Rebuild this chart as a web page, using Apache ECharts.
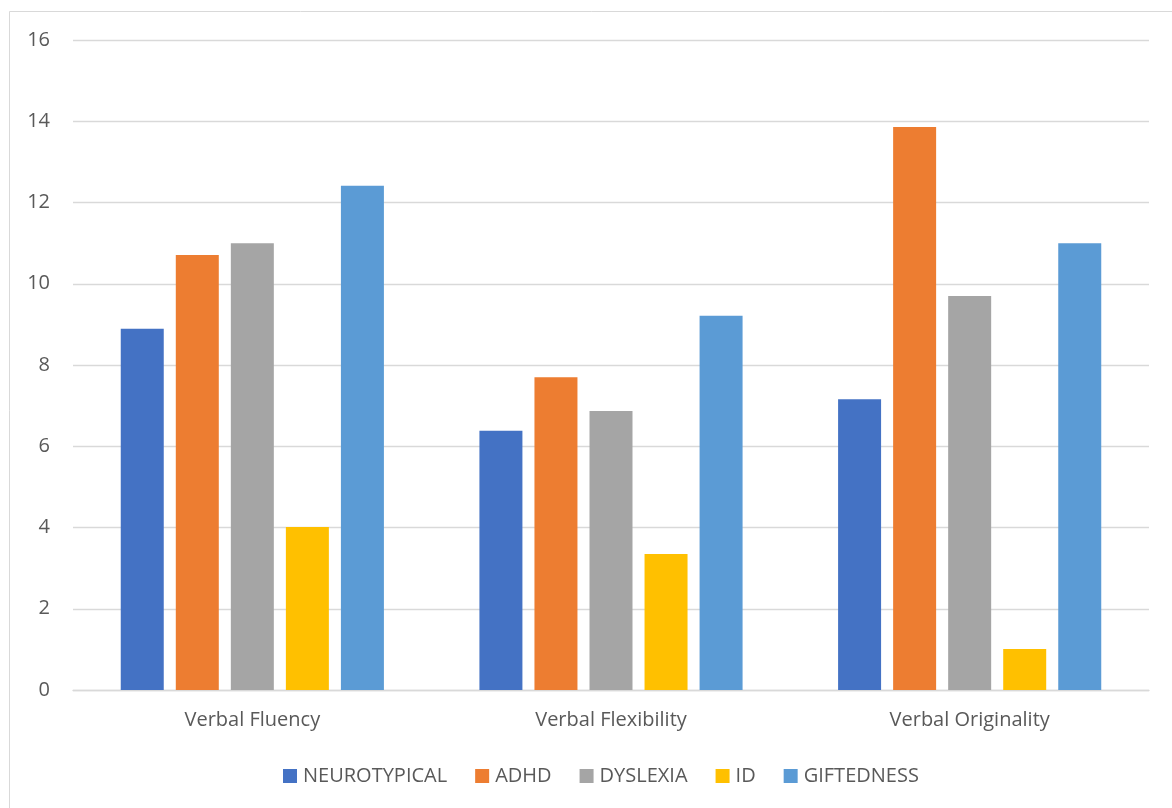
<!DOCTYPE html>
<html>
<head>
<meta charset="utf-8">
<script src="https://cdn.jsdelivr.net/npm/echarts@6/dist/echarts.min.js"></script>
<style>
  html, body { margin: 0; padding: 0; background: #fff; }
  #chart { width: 1172px; height: 808px; }
</style>
</head>
<body>
<div id="chart"></div>
<script>
// Verbal creativity scores by group
const categories = ['Verbal Fluency', 'Verbal Flexibility', 'Verbal Originality'];
const neurotypical = [8.89, 6.38, 7.16];
const adhd = [10.71, 7.70, 13.86];
const dyslexia = [11.0, 6.87, 9.70];
const id = [4.01, 3.35, 1.01];
const giftedness = [12.41, 9.21, 11.0];
const yTicks = { min: 0, max: 16, interval: 2 };

const seriesDefs = [
  { name: 'NEUROTYPICAL', data: neurotypical, color: '#4472C4' },
  { name: 'ADHD', data: adhd, color: '#ED7D31' },
  { name: 'DYSLEXIA', data: dyslexia, color: '#A5A5A5' },
  { name: 'ID', data: id, color: '#FFC000' },
  { name: 'GIFTEDNESS', data: giftedness, color: '#5B9BD5' }
];

const textColor = '#595959';
const fontFamily = '"Open Sans", "Liberation Sans", sans-serif';

const chart = echarts.init(document.getElementById('chart'), null, { renderer: 'canvas' });
chart.setOption({
  backgroundColor: '#fff',
  animation: false,
  graphic: [{
    // chart area frame (left and top edges fall inside the canvas)
    type: 'rect',
    shape: { x: 9.5, y: 11.5, width: 1300, height: 900 },
    style: { fill: 'none', stroke: '#D9D9D9', lineWidth: 1 },
    silent: true
  }],
  grid: { left: 73, right: 23, top: 40, bottom: 118, containLabel: false },
  legend: {
    bottom: 17,
    left: 278,
    itemWidth: 14,
    itemHeight: 14,
    itemGap: 28,
    icon: 'rect',
    textStyle: { color: textColor, fontSize: 20, fontFamily: fontFamily, padding: [0, 0, 0, 1] },
    data: seriesDefs.map(s => s.name)
  },
  xAxis: {
    type: 'category',
    data: categories,
    axisLine: { show: true, lineStyle: { color: '#D9D9D9', width: 1.3 } },
    axisTick: { show: false },
    axisLabel: { color: textColor, fontSize: 20, fontFamily: fontFamily, margin: 20 }
  },
  yAxis: {
    type: 'value',
    min: yTicks.min,
    max: yTicks.max,
    interval: yTicks.interval,
    axisLine: { show: false },
    axisTick: { show: false },
    splitLine: { lineStyle: { color: '#D9D9D9', width: 1.3 } },
    axisLabel: { color: textColor, fontSize: 20, fontFamily: fontFamily, margin: 23 }
  },
  series: seriesDefs.map(s => ({
    name: s.name,
    type: 'bar',
    data: s.data,
    barWidth: 43,
    barGap: '28%',
    itemStyle: { color: s.color }
  }))
});
</script>
</body>
</html>
